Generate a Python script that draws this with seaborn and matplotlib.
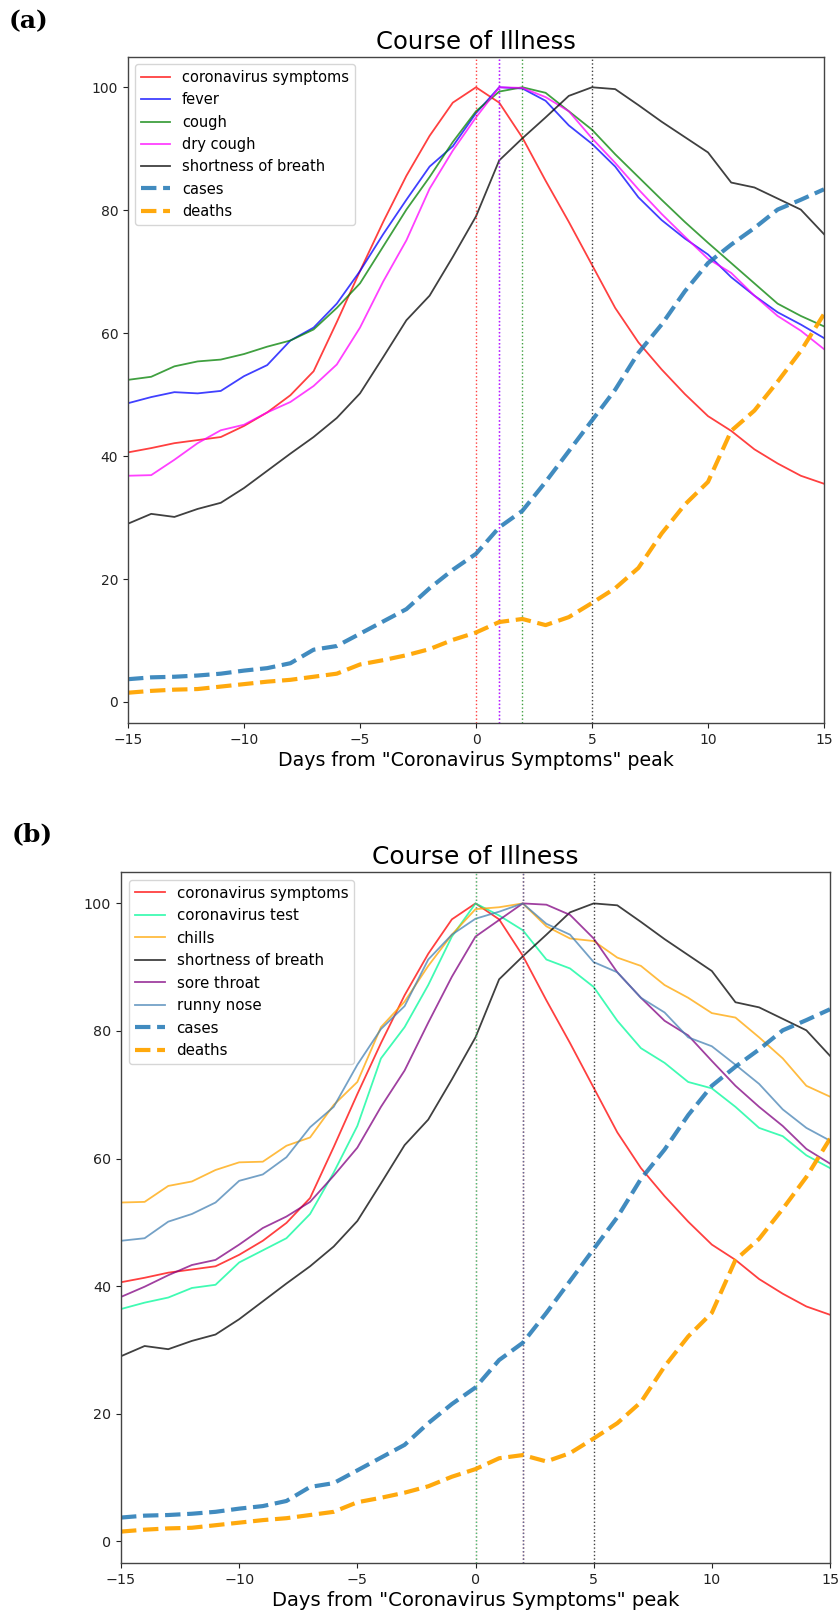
import numpy as np
import matplotlib
matplotlib.use("Agg")
import matplotlib.pyplot as plt
import seaborn as sns

# ---------------- data ----------------
days = list(range(-15, 16))

coronavirus_symptoms = [40.6, 41.3, 42.1, 42.6, 43.1, 44.9, 47.1, 49.9, 53.8, 61.8, 70.1, 78.1, 85.6, 92.1, 97.5,
                        100.0, 97.5, 91.8, 84.8, 78.1, 71.1, 64.1, 58.5, 54.1, 50.1, 46.5, 44.1, 41.1, 38.8, 36.8, 35.5]
fever = [48.6, 49.6, 50.4, 50.2, 50.6, 53.0, 54.8, 58.8, 60.9, 64.8, 70.1, 76.1, 81.7, 87.1, 90.4,
         95.8, 100.0, 99.8, 97.8, 93.8, 90.8, 87.1, 82.1, 78.4, 75.4, 72.8, 69.1, 66.1, 63.4, 61.4, 59.2]
cough = [52.4, 52.9, 54.6, 55.4, 55.7, 56.6, 57.8, 58.8, 60.6, 64.1, 68.1, 74.1, 80.1, 85.4, 91.1,
         96.1, 99.3, 100.0, 99.1, 96.1, 93.1, 89.1, 85.4, 81.7, 78.1, 74.7, 71.4, 68.1, 64.8, 62.8, 61.1]
dry_cough = [36.8, 36.9, 39.4, 42.1, 44.2, 45.1, 47.1, 48.8, 51.4, 54.9, 60.9, 68.4, 75.1, 83.5, 89.7,
             95.1, 100.0, 99.9, 98.4, 96.1, 91.7, 87.7, 83.4, 79.4, 75.7, 72.1, 69.8, 66.1, 62.8, 60.4, 57.4]
shortness_of_breath = [29.0, 30.6, 30.1, 31.4, 32.4, 34.8, 37.6, 40.4, 43.1, 46.2, 50.2, 56.1, 62.1, 66.1, 72.4,
                       79.0, 88.1, 91.7, 95.1, 98.6, 100.0, 99.7, 97.1, 94.4, 91.9, 89.4, 84.5, 83.7, 81.9, 80.1, 76.1]
coronavirus_test = [36.4, 37.4, 38.2, 39.7, 40.2, 43.7, 45.6, 47.5, 51.3, 57.8, 65.1, 75.7, 80.6, 87.2, 94.8,
                    100.0, 98.1, 95.8, 91.2, 89.8, 86.9, 81.6, 77.3, 75.0, 72.0, 71.0, 68.1, 64.8, 63.5, 60.5, 58.5]
chills = [53.1, 53.2, 55.7, 56.4, 58.2, 59.4, 59.5, 62.0, 63.3, 68.4, 72.0, 80.6, 84.6, 90.2, 95.1,
          99.1, 99.4, 100.0, 96.4, 94.5, 94.1, 91.5, 90.2, 87.2, 85.2, 82.8, 82.1, 79.0, 75.7, 71.4, 69.7]
sore_throat = [38.3, 39.9, 41.7, 43.3, 44.1, 46.5, 49.1, 50.9, 53.2, 57.3, 61.7, 68.1, 73.8, 81.3, 88.5,
               94.8, 97.4, 100.0, 99.8, 98.2, 94.5, 89.2, 85.2, 81.6, 79.3, 75.3, 71.4, 68.1, 65.1, 61.5, 59.2]
runny_nose = [47.1, 47.5, 50.1, 51.3, 53.1, 56.5, 57.5, 60.2, 64.9, 68.1, 74.7, 80.3, 83.9, 91.2, 95.1,
              97.6, 98.7, 100.0, 96.8, 95.1, 90.8, 89.2, 85.2, 82.9, 79.0, 77.6, 74.7, 71.7, 67.7, 64.8, 62.8]
cases = [3.7, 4.0, 4.1, 4.3, 4.6, 5.1, 5.5, 6.3, 8.5, 9.1, 11.1, 13.1, 15.1, 18.5, 21.5,
         24.1, 28.4, 31.1, 35.8, 40.8, 45.8, 50.8, 56.8, 61.4, 66.8, 71.4, 74.4, 77.1, 80.1, 81.7, 83.4]
deaths = [1.5, 1.8, 2.0, 2.1, 2.5, 2.9, 3.3, 3.6, 4.1, 4.6, 6.1, 6.8, 7.6, 8.6, 10.1,
          11.3, 13.0, 13.5, 12.5, 13.8, 16.1, 18.5, 21.8, 27.4, 32.1, 35.8, 44.1, 47.4, 52.1, 57.1, 63.1]

panel_a_terms = ["coronavirus symptoms", "fever", "cough", "dry cough", "shortness of breath"]
panel_a_values = [coronavirus_symptoms, fever, cough, dry_cough, shortness_of_breath]
panel_a_colors = ["red", "blue", "green", "magenta", "black"]

panel_b_terms = ["coronavirus symptoms", "coronavirus test", "chills", "shortness of breath",
                 "sore throat", "runny nose"]
panel_b_values = [coronavirus_symptoms, coronavirus_test, chills, shortness_of_breath,
                  sore_throat, runny_nose]
panel_b_colors = ["red", "mediumspringgreen", "orange", "black", "purple", "steelblue"]

title = "Course of Illness"
xlabel = 'Days from "Coronavirus Symptoms" peak'

# ---------------- figure ----------------
W, H = 838, 1614
fig = plt.figure(figsize=(W / 100, H / 100), dpi=100)


def px_axes(left, top, right, bottom):
    return fig.add_axes([left / W, 1 - bottom / H, (right - left) / W, (bottom - top) / H])


def draw_panel(ax, terms, values, colors, s=1.0):
    for name, vals, col in zip(terms, values, colors):
        sns.lineplot(x=days, y=vals, ax=ax, color=col, alpha=0.75, linewidth=1.3, label=name)
    for name, vals, col in zip(terms, values, colors):
        ax.axvline(days[int(np.argmax(vals))], color=col, linestyle=":", linewidth=1.0, alpha=0.75)
    sns.lineplot(x=days, y=cases, ax=ax, color="#1f77b4", alpha=0.85, linewidth=3,
                 linestyle="--", label="cases")
    sns.lineplot(x=days, y=deaths, ax=ax, color="orange", alpha=0.95, linewidth=3,
                 linestyle="--", label="deaths")
    ax.set_xlim(-15, 15)
    ax.set_xticks([-15, -10, -5, 0, 5, 10, 15])
    ax.set_yticks([0, 20, 40, 60, 80, 100])
    ax.tick_params(labelsize=10 * s, colors="#222222")
    ax.set_title(title, fontsize=17.5 * s, pad=6)
    ax.set_xlabel(xlabel, fontsize=13.7 * s, labelpad=3)
    ax.set_ylabel("")
    for sp in ax.spines.values():
        sp.set_color("#444444")
        sp.set_linewidth(1.0)
    ax.legend(loc="upper left", fontsize=10.5 * s)


ax_a = px_axes(128, 57, 824, 723)
draw_panel(ax_a, panel_a_terms, panel_a_values, panel_a_colors, s=1.0)

ax_b = px_axes(121, 872, 830, 1563)
draw_panel(ax_b, panel_b_terms, panel_b_values, panel_b_colors, s=1.03)

fig.text(9 / W, 1 - 9 / H, "(a)", ha="left", va="top", family="DejaVu Serif",
         fontweight="bold", fontsize=18)
fig.text(12 / W, 1 - 822 / H, "(b)", ha="left", va="top", family="DejaVu Serif",
         fontweight="bold", fontsize=18)

fig.savefig("out.png", dpi=100)
